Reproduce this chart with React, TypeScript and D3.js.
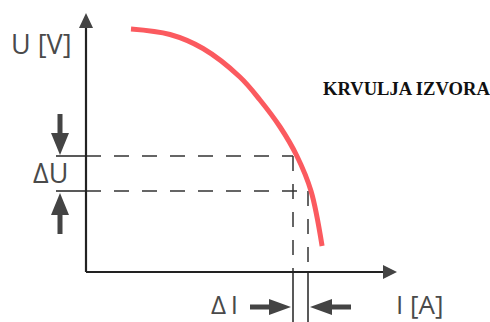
import React from "react";
import * as d3 from "d3";

// Source curve: current I vs voltage U (arbitrary units, 0..100)
const curveI = [15, 28, 39, 51.3, 58, 64.7, 70.3, 75, 78.7];
const curveU = [97.2, 95.0, 89.4, 78, 68.8, 58, 46.4, 32.4, 10.4];
// Operating points for delta construction
const markI = [69, 74];
const markU = [46.4, 32.4];

const title = "KRVULJA IZVORA";
const yLabel = "U [V]";
const xLabel = "I [A]";
const dU = "ΔU";
const dI = "Δ I";

export default function App() {
  const W = 490, H = 322;
  const x = d3.scaleLinear().domain([0, 100]).range([86, 386]);
  const y = d3.scaleLinear().domain([0, 100]).range([272, 22]);
  const pts: [number, number][] = curveI.map((v, i) => [v, curveU[i]]);
  const line = d3
    .line<[number, number]>()
    .x((d) => x(d[0]))
    .y((d) => y(d[1]))
    .curve(d3.curveCatmullRom.alpha(0.5));

  const x0 = x(0), y0 = y(0);
  const axisColor = "#222";
  const arrowColor = "#444";
  const dash = "15,13";
  const sans = "'Open Sans', 'DejaVu Sans', sans-serif";
  const labelColor = "#4a4a4a";

  const vArrow = (cx: number, tipY: number, dir: 1 | -1) => {
    const headLen = 22, halfW = 9, shaftLen = 19, shaftHalf = 2.5;
    const baseY = tipY - dir * headLen;
    const endY = baseY - dir * shaftLen;
    return (
      <g fill={arrowColor}>
        <rect x={cx - shaftHalf} y={Math.min(baseY, endY)} width={shaftHalf * 2} height={shaftLen} />
        <path d={`M${cx - halfW},${baseY} L${cx + halfW},${baseY} L${cx},${tipY} Z`} />
      </g>
    );
  };
  const hArrow = (cy: number, tipX: number, dir: 1 | -1) => {
    const headLen = 22, halfW = 8, shaftLen = 19, shaftHalf = 2.5;
    const baseX = tipX - dir * headLen;
    const endX = baseX - dir * shaftLen;
    return (
      <g fill={arrowColor}>
        <rect x={Math.min(baseX, endX)} y={cy - shaftHalf} width={shaftLen} height={shaftHalf * 2} />
        <path d={`M${baseX},${cy - halfW} L${baseX},${cy + halfW} L${tipX},${cy} Z`} />
      </g>
    );
  };

  const u1 = y(markU[0]), u2 = y(markU[1]);
  const i1 = x(markI[0]), i2 = x(markI[1]);

  return (
    <svg width={W} height={H} style={{ position: "absolute", left: 0, top: 0, background: "#fff" }}>
      <g stroke="#333" strokeWidth={1.5} fill="none" strokeDasharray={dash}>
        <line x1={x0} y1={u1} x2={i1} y2={u1} />
        <line x1={x0} y1={u2} x2={i2} y2={u2} />
        <line x1={i1} y1={u1} x2={i1} y2={y0} />
        <line x1={i2} y1={u2} x2={i2} y2={y0} />
      </g>
      <g stroke="#222" strokeWidth={1.5}>
        <line x1={56} y1={u1} x2={x0} y2={u1} />
        <line x1={56} y1={u2} x2={x0} y2={u2} />
        <line x1={i1} y1={y0} x2={i1} y2={H} />
        <line x1={i2} y1={y0} x2={i2} y2={H} />
      </g>
      <g stroke={axisColor} strokeWidth={2.2}>
        <line x1={x0} y1={y0} x2={x0} y2={26} />
        <line x1={x0} y1={y0} x2={384} y2={y0} />
      </g>
      <path d={`M${x0},13 L${x0 - 7},28 L${x0 + 7},28 Z`} fill={arrowColor} />
      <path d={`M397,${y0} L383,${y0 - 7} L383,${y0 + 7} Z`} fill={arrowColor} />
      <path d={line(pts) || ""} fill="none" stroke="#fb5a5f" strokeWidth={5} strokeLinecap="butt" />
      {vArrow(60, u1 - 1, 1)}
      {vArrow(60, u2 + 2, -1)}
      {hArrow(307, i1 - 2, 1)}
      {hArrow(307, i2 + 2, -1)}
      <g fontFamily={sans} fill={labelColor} fontSize={27} fontWeight={400}>
        <text x={11} y={54}>{yLabel}</text>
        <text x={33} y={183}>{dU}</text>
      </g>
      <g fontFamily={sans} fill={labelColor} fontSize={26} fontWeight={400}>
        <text x={211} y={314} wordSpacing={-2}>{dI}</text>
        <text x={396} y={314}>{xLabel}</text>
      </g>
      <text x={323} y={95} fontFamily="'Liberation Serif', 'Times New Roman', serif" fontWeight="bold" fontSize={18.6} fill="#111">
        {title}
      </text>
    </svg>
  );
}
